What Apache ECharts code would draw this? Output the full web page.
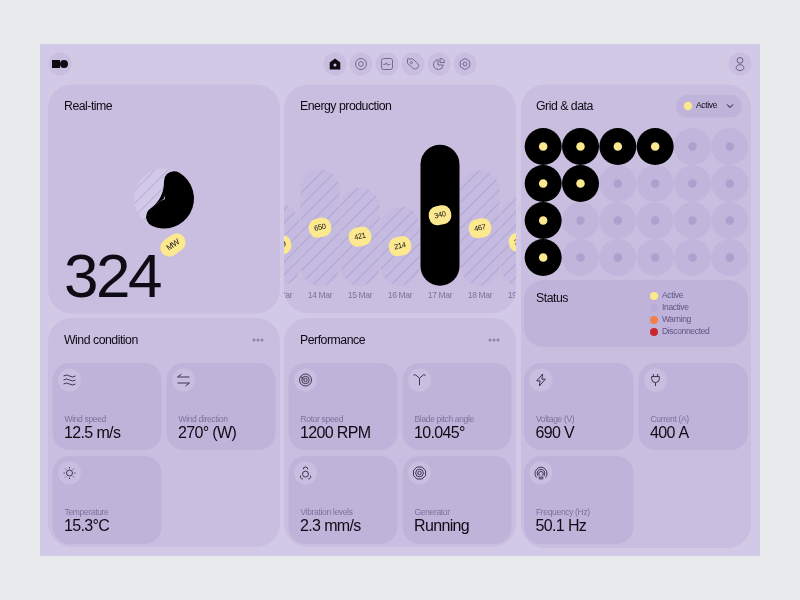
<!DOCTYPE html>
<html>
<head>
<meta charset="utf-8">
<style>html,body{margin:0;padding:0;background:#e9eaec}#chart{width:800px;height:600px}</style>
<script src="https://cdn.jsdelivr.net/npm/echarts@6/dist/echarts.min.js"></script>
</head>
<body>
<div id="chart"></div>
<script>
const days = ['13 Mar', '14 Mar', '15 Mar', '16 Mar', '17 Mar', '18 Mar', '19 Mar'];
const barHeights = [81, 116, 98, 79, 141, 115, 88];
const barLabels = ['319', '650', '421', '214', '340', '467', '350'];
const highlightDay = '17 Mar';

// real-time gauge
const realtimeMW = 324;
const realtimeRest = 176;

// grid matrix, 1 = active, 0 = inactive
const matrixRows = [
    [1, 1, 1, 1, 0, 0],
    [1, 1, 0, 0, 0, 0],
    [1, 0, 0, 0, 0, 0],
    [1, 0, 0, 0, 0, 0]
];
const statusNames = ['Active', 'Inactive', 'Warning', 'Disconnected'];
const statusColors = ['#fbe88f', '#b9acd6', '#f27f4c', '#c8262c'];

const windNames = ['Wind speed', 'Wind direction', 'Temperature'];
const windValues = ['12.5 m/s', '270\u00b0 (W)', '15.3\u00b0C'];
const perfNames = ['Rotor speed', 'Blade pitch angle', 'Vibration levels', 'Generator'];
const perfValues = ['1200 RPM', '10.045\u00b0', '2.3 mm/s', 'Running'];
const elecNames = ['Voltage (V)', 'Current (A)', 'Frequency (Hz)'];
const elecValues = ['690 V', '400 A', '50.1 Hz'];

const PANEL = '#d2c9e6', CARD = '#c9bee0', TILE = '#bfb3da', FONT = '"Liberation Sans", Arial, sans-serif';
const INK = '#0e0b14', MUTED = '#7c7298';

// the design font is tracked tight, zrender has no letter spacing option
const plainFillText = CanvasRenderingContext2D.prototype.fillText;
CanvasRenderingContext2D.prototype.fillText = function (t, x, y, w) {
    this.letterSpacing = (-0.04 * parseFloat(this.font)) + 'px';
    return w === undefined ? plainFillText.call(this, t, x, y) : plainFillText.call(this, t, x, y, w);
};

function hatch(bg, line) {
    const s = 13;
    const c = document.createElement('canvas');
    c.width = s; c.height = s;
    const g = c.getContext('2d');
    g.fillStyle = bg;
    g.fillRect(0, 0, s, s);
    g.strokeStyle = line;
    g.lineWidth = 1.1;
    g.beginPath();
    g.moveTo(-1, s + 1); g.lineTo(s + 1, -1);
    g.moveTo(-1, 1); g.lineTo(1, -1);
    g.moveTo(s - 1, s + 1); g.lineTo(s + 1, s - 1);
    g.stroke();
    return { image: c, repeat: 'repeat' };
}

const ICONS = {
    waves: 'M2 4q3-2 6 0t6 0M2 8q3-2 6 0t6 0M2 12q3-2 6 0t6 0',
    arrows: 'M2 5h12M6 2L2 5M14 11H2M10 14l4-3',
    sun: 'M8 4.5a3.5 3.5 0 1 0 .01 0M8 1v1.5M8 13.5V15M1 8h1.5M13.5 8H15M3 3l1 1M12 12l1 1M13 3l-1 1M4 12l-1 1',
    rotor: 'M8 1.5a6.5 6.5 0 1 0 .01 0M8 4a4 4 0 1 0 .01 0M8 6.2a1.8 1.8 0 1 0 .01 0M3 4.5l3 2.5',
    blade: 'M8 15V8M8 8L4 4.5L2 5M8 8l4-3.5L14 5',
    vibration: 'M8 4a4 4 0 1 0 .01 0M5 1.5a3 3 0 0 1 6 0M1.5 10a3 3 0 0 0 3 4.5M14.5 10a3 3 0 0 1-3 4.5',
    generator: 'M5 1h6l4 4v6l-4 4H5l-4-4V5zM8 3.5a4.5 4.5 0 1 0 .01 0M8 6a2 2 0 1 0 .01 0',
    bolt: 'M10 1L3 9h4l-1 6 7-8H9z',
    plug: 'M5.5 1v3M10.5 1v3M3.5 4h9v2.5a4.5 4.5 0 0 1-9 0zM8 11v4',
    freq: 'M8 1a7 7 0 0 0-5 11.5M8 1a7 7 0 0 1 5 11.5M8 3.5a4.5 4.5 0 0 0-3 7.5M8 3.5a4.5 4.5 0 0 1 3 7.5M8 6a2 2 0 0 0-1 4M8 6a2 2 0 0 1 1 4M6 12h4v2H6z',
    ring: 'M8 1a7 7 0 1 0 .01 0M8 5a3 3 0 1 0 .01 0',
    screen: 'M4 1.5h8a2.5 2.5 0 0 1 2.5 2.5v8a2.5 2.5 0 0 1-2.5 2.5H4A2.5 2.5 0 0 1 1.5 12V4A2.5 2.5 0 0 1 4 1.5zM3.5 8.5h2.5l1.2-2 1.6 3 1.2-1h2',
    tag: 'M2 3h6l5.5 5a3.5 3.5 0 0 1-5.5 5.5L2 8zM6.5 6a1.2 1.2 0 1 0 .01 0',
    pie: 'M7 2.5a6 6 0 1 0 6.5 6.5H7zM9.5 1v5H15A5.5 5.5 0 0 0 9.5 1z',
    hex: 'M8 1l6 3.5v7L8 15l-6-3.5v-7zM8 5.5a2.5 2.5 0 1 0 .01 0',
    user: 'M8 1a3 3 0 1 0 .01 0M8 8.5c-2.5 0-4 1.3-4 3s1.5 3 4 3 4-1.3 4-3-1.5-3-4-3z',
    home: 'M8 1l6.5 5v8.5h-13V6z'
};

const elements = [];
const iconItems = [];
function rrect(x, y, w, h, r, fill, z) {
    elements.push({ type: 'rect', z: z, silent: true, shape: { x: x, y: y, width: w, height: h, r: r }, style: { fill: fill } });
}
function dot(cx, cy, r, fill, z) {
    elements.push({ type: 'circle', z: z, silent: true, shape: { cx: cx, cy: cy, r: r }, style: { fill: fill } });
}
function label(text, x, y, size, color, z) {
    elements.push({ type: 'text', z: z, silent: true, x: x, y: y,
        style: { text: text, fontFamily: FONT, fontSize: size, fill: color, verticalAlign: 'middle', align: 'left' } });
}
function icon(name, cx, cy, size, color, width, fill) {
    iconItems.push({ name: name, cx: cx, cy: cy, size: size, color: color, width: width, fill: fill || 'none' });
}

// page background and the energy card sit under the bars
rrect(0, 0, 800, 600, 0, '#e9eaec', 0);
rrect(40, 44, 720, 512, 0, PANEL, 0);
rrect(284, 84.5, 232, 229, 24, CARD, 0);

// other cards go over the frame series that trims the bars
rrect(48, 84.5, 232, 229, 24, CARD, 6);
rrect(521, 84.5, 230, 463.5, 24, CARD, 6);
rrect(48, 318, 232, 229, 24, CARD, 6);
rrect(284, 318, 232, 229, 24, CARD, 6);
rrect(524, 280, 224, 67, 20, TILE, 7);

// top bar
dot(60, 64, 11.5, '#c9bee0', 7);
rrect(52, 60, 8, 8, 0, INK, 8);
dot(64, 64, 4, INK, 8);
const navX = [335, 361, 387, 413, 439, 465];
const navIcons = ['home', 'ring', 'screen', 'tag', 'pie', 'hex'];
navX.forEach((x, i) => {
    dot(x, 64, 11.5, '#c9bee0', 7);
    if (navIcons[i] === 'home') {
        icon('home', x, 64, 11, INK, 0, INK);
        dot(x, 65, 1.5, '#d2c9e6', 13);
    } else {
        icon(navIcons[i], x, 64, 11, '#6a6088', 0.9);
    }
});
dot(740, 64, 11.5, '#c9bee0', 7);
icon('user', 740, 64, 13, '#5a5078', 0.9);

// card titles
label('Real-time', 64, 106.5, 12.3, INK, 12);
label('Energy production', 300, 106.5, 12.3, INK, 12);
label('Grid & data', 536, 106.5, 12.3, INK, 12);
label('Status', 536, 298.5, 12.3, INK, 12);
label('Wind condition', 64, 340.5, 12.3, INK, 12);
label('Performance', 300, 340.5, 12.3, INK, 12);
[254, 258, 262, 490, 494, 498].forEach(x => dot(x, 340, 1.5, '#8f85ab', 12));

// big number and the MW pill
label(String(realtimeMW), 64, 280, 62, INK, 12);
elements.push({ type: 'group', z: 12, x: 173, y: 245, rotation: 35 * Math.PI / 180, silent: true, children: [
    { type: 'rect', z: 12, shape: { x: -13.5, y: -9, width: 27, height: 18, r: 9 }, style: { fill: '#fbe88f' } },
    { type: 'text', z: 13, style: { text: 'MW', x: 0, y: 0, fontFamily: FONT, fontSize: 8, fill: INK, align: 'center', verticalAlign: 'middle' } }
] });

// dropdown
rrect(676.5, 95, 65.5, 22.5, 11, TILE, 7);
dot(688, 106, 4.2, '#fbe88f', 12);
label('Active', 696, 106, 8.5, INK, 12);
elements.push({ type: 'polyline', z: 12, silent: true, shape: { points: [[727, 104.5], [730, 107.5], [733, 104.5]] }, style: { fill: 'none', stroke: INK, lineWidth: 1 } });

// status legend
statusNames.forEach((name, i) => {
    dot(654, 296 + i * 12, 4, statusColors[i], 12);
    label(name, 662, 296 + i * 12, 8.5, '#5f5580', 12);
});

// metric tiles
function tile(x, y, w, h, iconName, name, value) {
    rrect(x, y, w, h, 17, TILE, 7);
    dot(x + 17, y + 17, 11.5, CARD, 8);
    icon(iconName, x + 17, y + 17, 12, '#2c2642', 0.9);
    label(name, x + 12, y + 57, 8.5, MUTED, 12);
    label(value, x + 11.5, y + 71, 16, INK, 12);
}
const colA = 52.5, colB = 166.5, colC = 288.5, colD = 402.5, colE = 524, colF = 638.5;
const rowA = 363, rowB = 456;
tile(colA, rowA, 109, 87, 'waves', windNames[0], windValues[0]);
tile(colB, rowA, 109, 87, 'arrows', windNames[1], windValues[1]);
tile(colA, rowB, 109, 88, 'sun', windNames[2], windValues[2]);
tile(colC, rowA, 109, 87, 'rotor', perfNames[0], perfValues[0]);
tile(colD, rowA, 109, 87, 'blade', perfNames[1], perfValues[1]);
tile(colC, rowB, 109, 88, 'vibration', perfNames[2], perfValues[2]);
tile(colD, rowB, 109, 88, 'generator', perfNames[3], perfValues[3]);
tile(colE, rowA, 109.5, 87, 'bolt', elecNames[0], elecValues[0]);
tile(colF, rowA, 109.5, 87, 'plug', elecNames[1], elecValues[1]);
tile(colE, rowB, 109.5, 88, 'freq', elecNames[2], elecValues[2]);

const matrixData = [];
matrixRows.forEach((row, r) => row.forEach((v, c) => matrixData.push([c, r, v])));

const barStripes = hatch('#c5badf', '#b3a7d3');
const pieStripes = hatch('#d1c9e7', '#bdb2d8');

// frame with a rounded hole, it trims the outer bars to the energy card
const framePath = 'M270 76H530V322H270ZM308 84.5A24 24 0 0 0 284 108.5V289.5A24 24 0 0 0 308 313.5H492A24 24 0 0 0 516 289.5V108.5A24 24 0 0 0 492 84.5Z';

// soft inner corner of the gauge: fills the tip of the open wedge, follows the value
const gaugeCenter = [164, 198.5];
function gaugeFillet() {
    const a = 2 * Math.PI * realtimeMW / (realtimeMW + realtimeRest);
    const k = 17;
    const sx = gaugeCenter[0], sy = gaugeCenter[1] - k;
    const ex = gaugeCenter[0] + k * Math.sin(a), ey = gaugeCenter[1] - k * Math.cos(a);
    const v = gaugeCenter.join(' ');
    return 'M' + sx + ' ' + sy + 'L' + v + 'L' + ex + ' ' + ey + 'Q' + v + ' ' + sx + ' ' + sy + 'Z';
}

const myChart = echarts.init(document.getElementById('chart'));
myChart.setOption({
    animation: false,
    grid: [
        { left: 260, width: 280, top: 130.7, height: 155 },
        { left: 524.5, width: 224, top: 128, height: 148 }
    ],
    xAxis: [
        {
            type: 'category', gridIndex: 0, data: days, z: 3,
            axisLine: { show: false }, axisTick: { show: false },
            axisLabel: { interval: 0, margin: 5, fontSize: 8.5, color: MUTED, fontFamily: FONT }
        },
        { type: 'category', gridIndex: 1, data: [0, 1, 2, 3, 4, 5], show: false }
    ],
    yAxis: [
        { type: 'value', gridIndex: 0, min: 0, max: 155, show: false },
        { type: 'category', gridIndex: 1, data: [0, 1, 2, 3], inverse: true, show: false }
    ],
    series: [
        {
            type: 'bar', xAxisIndex: 0, yAxisIndex: 0, barWidth: 39, z: 2,
            data: barHeights.map((h, i) => ({
                value: h,
                itemStyle: { color: days[i] === highlightDay ? '#000' : barStripes, borderRadius: 19.5 }
            })),
            label: {
                show: true, position: 'inside', rotate: 12,
                formatter: p => barLabels[p.dataIndex],
                fontFamily: FONT, fontSize: 7.5, color: INK,
                backgroundColor: '#fbe88f', borderRadius: 8.5, padding: [6, 5, 5, 5]
            }
        },
        {
            type: 'custom', coordinateSystem: 'none', z: 5, silent: true, data: [0],
            renderItem: () => ({
                type: 'path',
                shape: { pathData: framePath, x: 270, y: 76, width: 260, height: 246, layout: 'cover' },
                style: { fill: PANEL }
            })
        },
        {
            type: 'pie', z: 10, center: gaugeCenter, radius: [0, 30], silent: true,
            startAngle: 90, clockwise: true,
            label: { show: false }, labelLine: { show: false },
            data: [{ value: realtimeMW, itemStyle: { color: pieStripes } }, { value: realtimeRest, itemStyle: { color: pieStripes } }]
        },
        {
            type: 'pie', z: 11, center: gaugeCenter, radius: [1, 30], silent: true,
            startAngle: 90, clockwise: true,
            label: { show: false }, labelLine: { show: false },
            data: [
                { value: realtimeMW, itemStyle: { color: '#000', borderRadius: 10 } },
                { value: realtimeRest, itemStyle: { color: 'transparent' } }
            ]
        },
        {
            type: 'custom', coordinateSystem: 'none', z: 11, silent: true, data: [0],
            renderItem: () => ({ type: 'path', shape: { pathData: gaugeFillet() }, style: { fill: '#000' } })
        },
        {
            type: 'scatter', xAxisIndex: 1, yAxisIndex: 1, z: 10, silent: true,
            symbolSize: 37, data: matrixData,
            itemStyle: { opacity: 1, color: p => p.value[2] ? '#000' : '#c1b5db' }
        },
        {
            type: 'scatter', xAxisIndex: 1, yAxisIndex: 1, z: 11, silent: true,
            symbolSize: 8.5, data: matrixData,
            itemStyle: { opacity: 1, color: p => p.value[2] ? '#fbe88f' : '#ae9fcf' }
        },
        {
            type: 'custom', coordinateSystem: 'none', z: 12, silent: true,
            data: iconItems.map((_, i) => i),
            renderItem: params => {
                const it = iconItems[params.dataIndex];
                return {
                    type: 'path',
                    shape: { pathData: ICONS[it.name], x: it.cx - it.size / 2, y: it.cy - it.size / 2, width: it.size, height: it.size, layout: 'center' },
                    style: { fill: it.fill, stroke: it.width ? it.color : 'none', lineWidth: it.width }
                };
            }
        }
    ],
    graphic: { elements: elements }
});
</script>
</body>
</html>
